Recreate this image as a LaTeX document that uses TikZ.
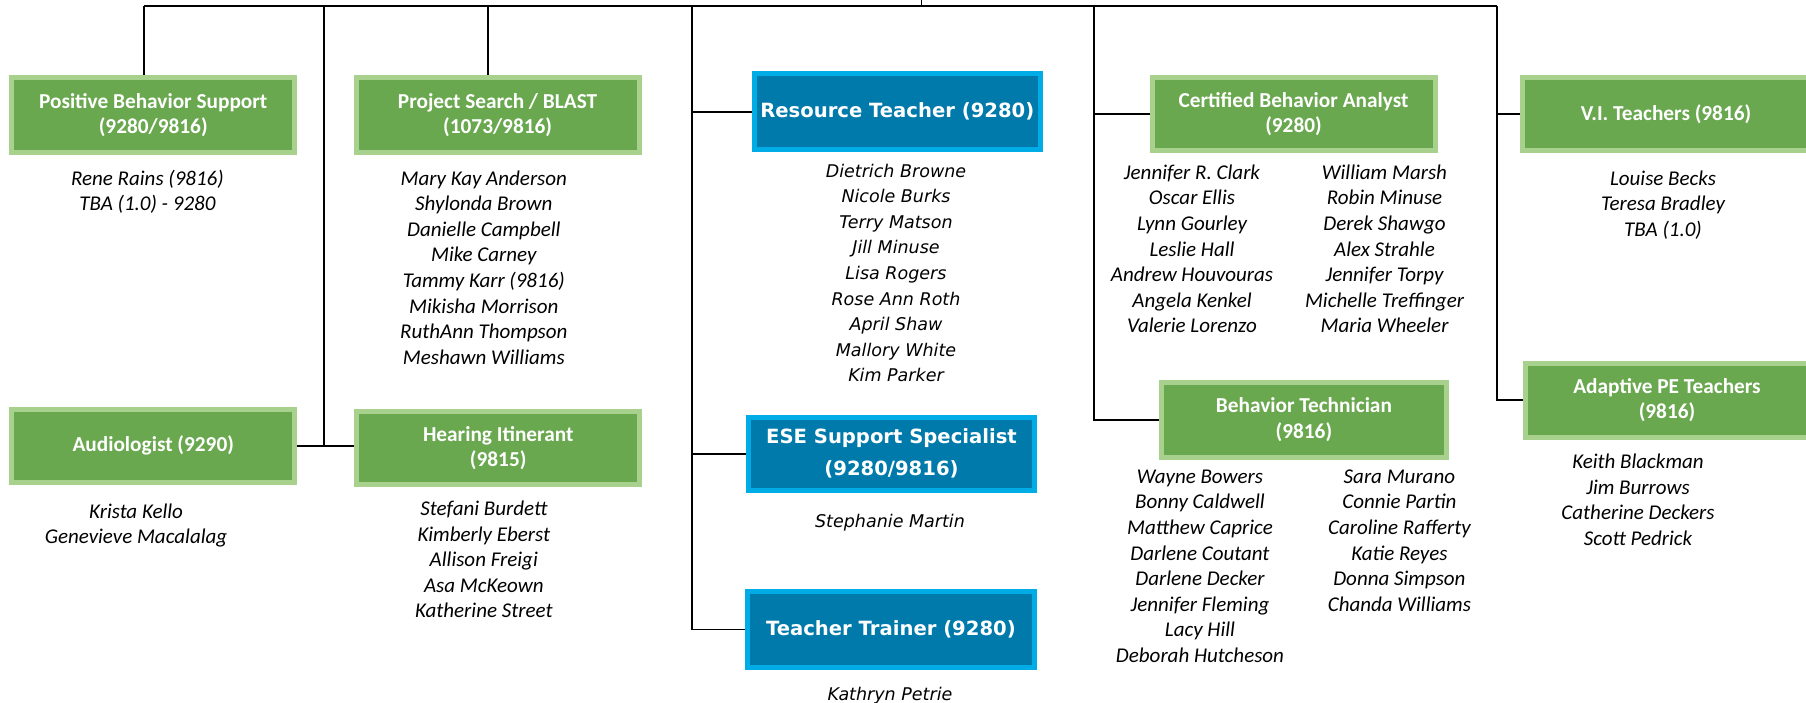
\documentclass[tikz,border=0pt]{standalone}
\usepackage{fontspec}
\usetikzlibrary{backgrounds}
\newfontfamily\calib{Carlito}
\newfontfamily\verd{DejaVu Sans}
\definecolor{grnfill}{RGB}{106,168,79}
\definecolor{grnedge}{RGB}{169,209,142}
\definecolor{bluefill}{RGB}{0,122,170}
\definecolor{blueedge}{RGB}{0,172,230}

\begin{document}
\begin{tikzpicture}[
    x=1pt, y=-1pt,
    box/.style={draw, line width=5pt, inner sep=0pt, align=center, text=white},
    grnbox/.style={box, draw=grnedge, fill=grnfill, minimum width=283pt,
                   minimum height=75.5pt, font=\calib\bfseries\fontsize{21.3}{25.5}\selectfont},
    bluebox/.style={box, draw=blueedge, fill=bluefill, minimum width=285.5pt,
                    minimum height=75.5pt, font=\verd\bfseries\fontsize{19.6}{32}\selectfont},
    nm/.style={anchor=base, inner sep=0pt, font=\calib\itshape\fontsize{21}{25}\selectfont},
    bnm/.style={anchor=base, inner sep=0pt, font=\verd\itshape\fontsize{17.5}{25}\selectfont},
    link/.style={line width=1.9pt},
]
\useasboundingbox (0,0) rectangle (1806,702);

% ── Green boxes ──────────────────────────────────────────────────────────
\node[grnbox] (pbs) at (153.2,115.2) {Positive Behavior Support\\(9280/9816)};
\node[grnbox] (ps) at (497.6,115.2) {Project Search / BLAST\\(1073/9816)};
\node[grnbox, minimum height=73.3pt] (aud) at (153.2,445.8) {Audiologist (9290)};
\node[grnbox, minimum height=73.3pt] (hear) at (498.2,448) {Hearing Itinerant\\(9815)};
\node[grnbox, minimum height=73.3pt] (cba) at (1293.5,114) {Certified Behavior Analyst\\(9280)};
\node[grnbox, minimum width=285pt, minimum height=74.5pt] (bt) at (1303.9,419.8)
    {Behavior Technician\\(9816)};
\node[grnbox, minimum width=287pt, minimum height=73.3pt] (vi) at (1666,114) {V.I. Teachers (9816)};
\node[grnbox, minimum width=284pt, minimum height=74.5pt] (ape) at (1667,400.3)
    {Adaptive PE Teachers\\(9816)};

% ── Blue boxes ───────────────────────────────────────────────────────────
\node[bluebox] (rt) at (897.3,111.7) {Resource Teacher (9280)};
\node[bluebox, minimum height=73.4pt] (ese) at (891.5,453.8) {ESE Support Specialist\\(9280/9816)};
\node[bluebox, minimum width=286.4pt, minimum height=76.7pt] (tt) at (890.9,629.5)
    {Teacher Trainer (9280)};

% ── Names ────────────────────────────────────────────────────────────────
\foreach \n [count=\i from 0] in {Rene Rains (9816), TBA (1.0) - 9280}
    \node[nm] (pbsn\i) at (147.4,{185+\i*25.6}) {\n};
\foreach \n [count=\i from 0] in {Mary Kay Anderson, Shylonda Brown, Danielle Campbell,
        Mike Carney, Tammy Karr (9816), Mikisha Morrison, RuthAnn Thompson, Meshawn Williams}
    \node[nm] (psn\i) at (483.8,{185+\i*25.6}) {\n};
\foreach \n [count=\i from 0] in {Krista Kello, Genevieve Macalalag}
    \node[nm] (audn\i) at (136,{518+\i*25.6}) {\n};
\foreach \n [count=\i from 0] in {Stefani Burdett, Kimberly Eberst, Allison Freigi,
        Asa McKeown, Katherine Street}
    \node[nm] (hearn\i) at (483.8,{515.5+\i*25.6}) {\n};
\foreach \n [count=\i from 0] in {Dietrich Browne, Nicole Burks, Terry Matson, Jill Minuse,
        Lisa Rogers, Rose Ann Roth, April Shaw, Mallory White, Kim Parker}
    \node[bnm] (rtn\i) at (896,{177+\i*25.6}) {\n};
\node[bnm] (esen0) at (890,527) {Stephanie Martin};
\node[bnm] (ttn0) at (890,700) {Kathryn Petrie};
\foreach \n [count=\i from 0] in {Jennifer R. Clark, Oscar Ellis, Lynn Gourley, Leslie Hall,
        Andrew Houvouras, Angela Kenkel, Valerie Lorenzo}
    \node[nm] (cbal\i) at (1192,{179.3+\i*25.6}) {\n};
\foreach \n [count=\i from 0] in {William Marsh, Robin Minuse, Derek Shawgo, Alex Strahle,
        Jennifer Torpy, Michelle Treffinger, Maria Wheeler}
    \node[nm] (cbar\i) at (1384.5,{179.3+\i*25.6}) {\n};
\foreach \n [count=\i from 0] in {Wayne Bowers, Bonny Caldwell, Matthew Caprice,
        Darlene Coutant, Darlene Decker, Jennifer Fleming, Lacy Hill, Deborah Hutcheson}
    \node[nm] (btl\i) at (1200,{483.3+\i*25.6}) {\n};
\foreach \n [count=\i from 0] in {Sara Murano, Connie Partin, Caroline Rafferty, Katie Reyes,
        Donna Simpson, Chanda Williams}
    \node[nm] (btr\i) at (1399.4,{483.3+\i*25.6}) {\n};
\foreach \n [count=\i from 0] in {Louise Becks, Teresa Bradley, TBA (1.0)}
    \node[nm] (vin\i) at (1663,{185+\i*25.6}) {\n};
\foreach \n [count=\i from 0] in {Keith Blackman, Jim Burrows, Catherine Deckers, Scott Pedrick}
    \node[nm] (apen\i) at (1638,{468.4+\i*25.6}) {\n};

% ── Connectors ───────────────────────────────────────────────────────────
\begin{scope}[on background layer]
\coordinate (up) at (921.5,0);
\coordinate (c1) at (144,6);
\coordinate (c2) at (323.6,6);
\coordinate (c3) at (488.4,6);
\coordinate (c4) at (692.2,6);
\coordinate (c5) at (1094,6);
\coordinate (c6) at (1497.3,6);
\draw[link, line width=2.4pt] (c1) -- (c6);
\draw[link] (up) -- (up |- c1);
\draw[link] (c1) -- (c1 |- pbs.north);
\draw[link] (c2) -- (c2 |- aud.east);
\draw[link] (aud.east) -- (hear.west |- aud.east);
\draw[link] (c3) -- (c3 |- ps.north);
\draw[link] (c4) -- (c4 |- tt.west) -- (tt.west);
\draw[link] (c4 |- rt.west) -- (rt.west);
\draw[link] (c4 |- ese.west) -- (ese.west);
\draw[link] (c5) -- (c5 |- bt.west) -- (bt.west);
\draw[link] (c5 |- cba.west) -- (cba.west);
\draw[link] (c6) -- (c6 |- ape.west) -- (ape.west);
\draw[link] (c6 |- vi.west) -- (vi.west);
\end{scope}

\end{tikzpicture}
\end{document}
